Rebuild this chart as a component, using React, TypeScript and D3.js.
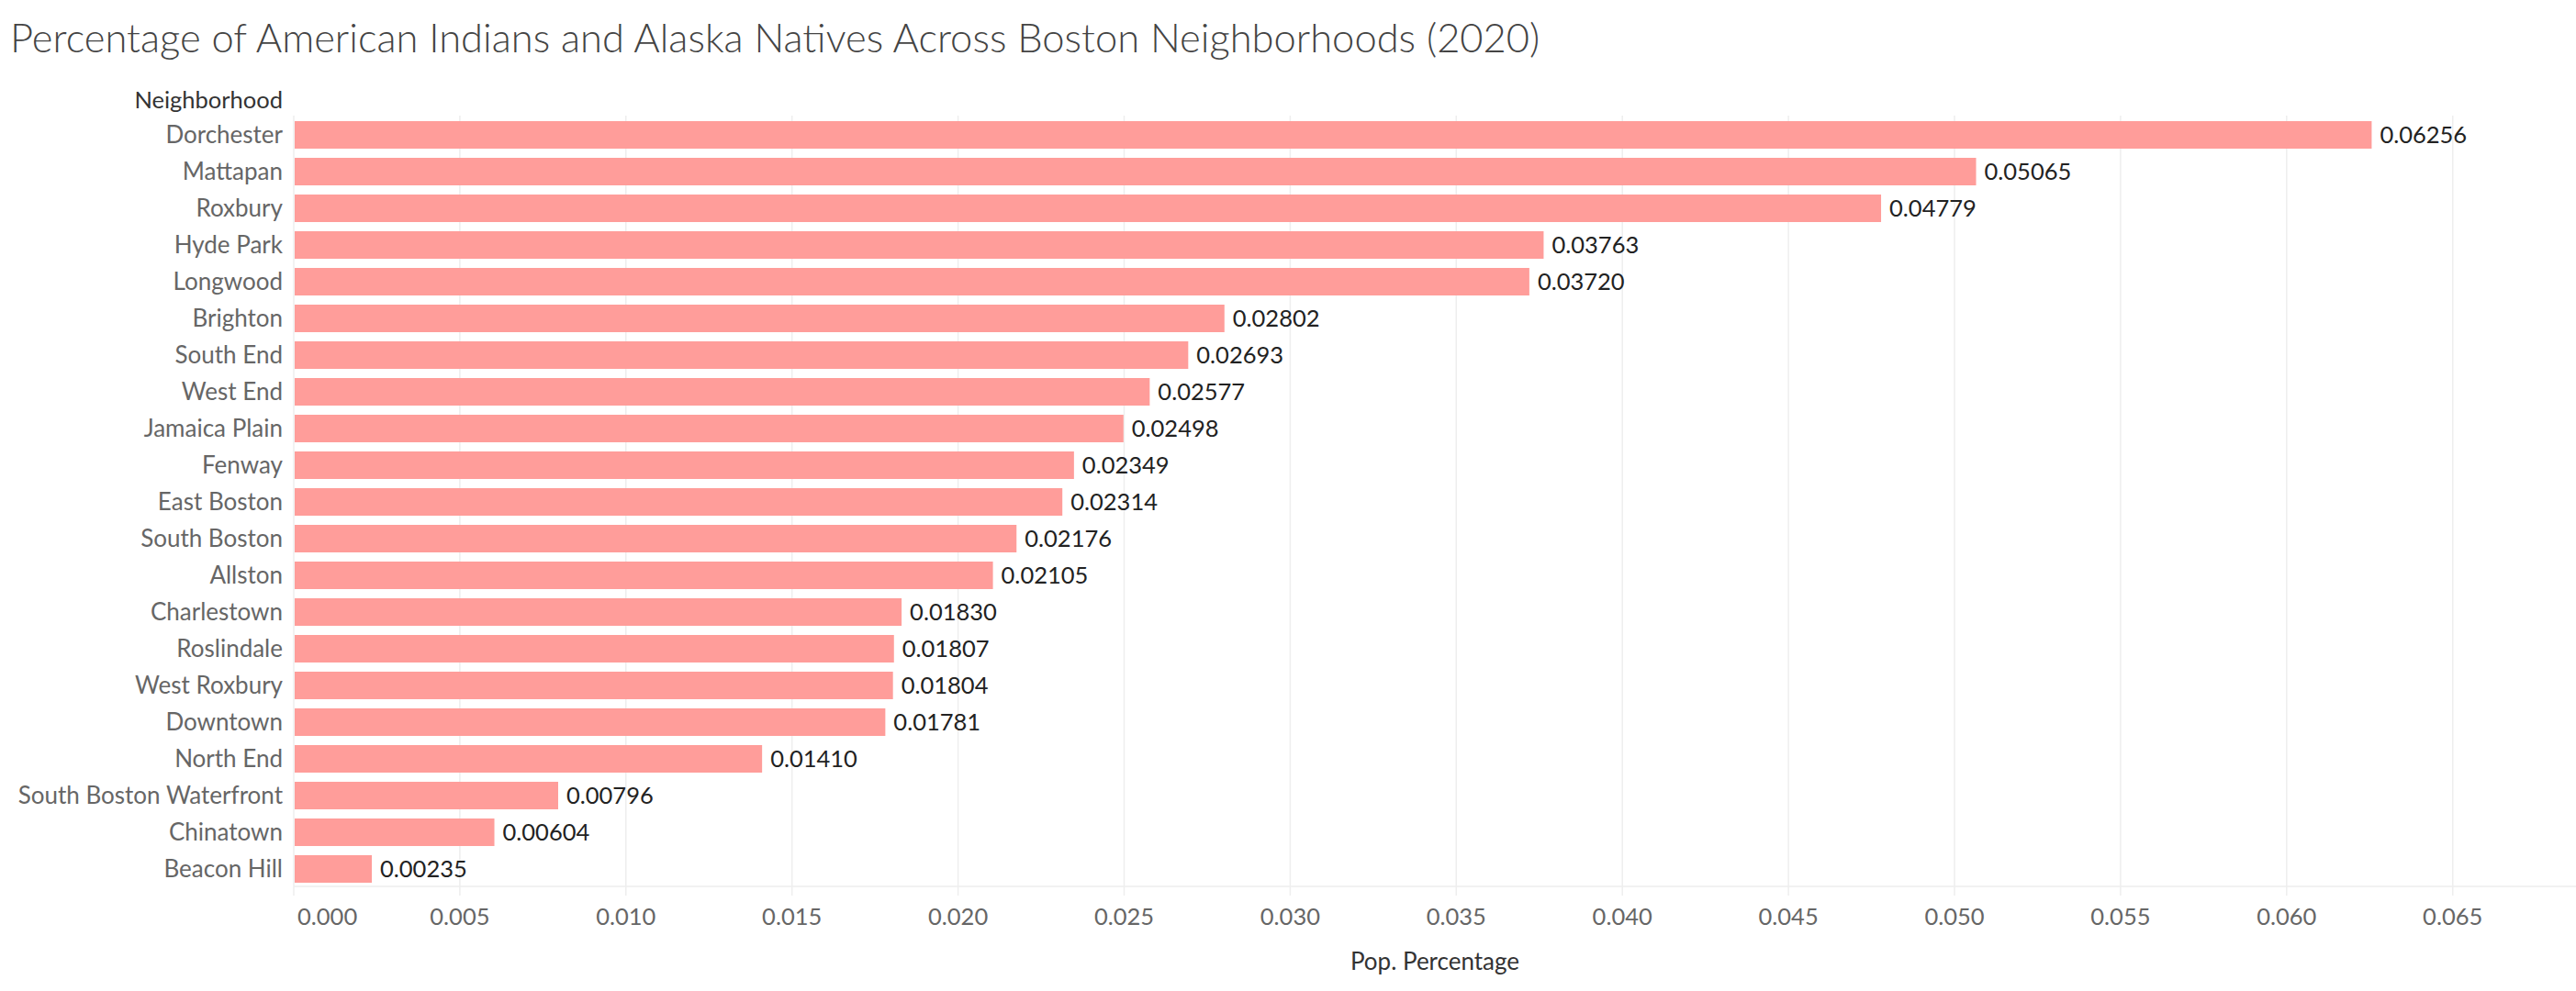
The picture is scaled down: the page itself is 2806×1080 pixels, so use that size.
import React, { useEffect, useRef } from 'react';
import { scaleBand, scaleLinear, select, range } from 'd3';

const neighborhoods = [
    'Dorchester', 'Mattapan', 'Roxbury', 'Hyde Park', 'Longwood', 'Brighton',
    'South End', 'West End', 'Jamaica Plain', 'Fenway', 'East Boston',
    'South Boston', 'Allston', 'Charlestown', 'Roslindale', 'West Roxbury',
    'Downtown', 'North End', 'South Boston Waterfront', 'Chinatown', 'Beacon Hill'
];

const popPercentage = [
    0.06256, 0.05065, 0.04779, 0.03763, 0.03720, 0.02802,
    0.02693, 0.02577, 0.02498, 0.02349, 0.02314,
    0.02176, 0.02105, 0.01830, 0.01807, 0.01804,
    0.01781, 0.01410, 0.00796, 0.00604, 0.00235
];

const xTicks = range(0, 14).map(i => i * 0.005);

const W = 2806;
const H = 1080;
const FONT = 'Lato, "Open Sans", sans-serif';

const App = () => {

    const svgRef = useRef<SVGSVGElement>(null);

    useEffect(() => {
        document.body.style.margin = '0';

        const svg = select(svgRef.current);
        svg.selectAll('*').remove();

        const left = 320, right = W, top = 127, bottom = 967;

        const xScale = scaleLinear()
            .domain([0, (right - left) / 36180])
            .range([left, right]);

        const yScale = scaleBand()
            .domain(neighborhoods)
            .range([top, bottom])
            .paddingInner(0.25)
            .paddingOuter(0.125);

        // title
        svg.append('text')
            .attr('x', 11)
            .attr('y', 57)
            .attr('font-family', FONT)
            .attr('font-weight', 300)
            .attr('font-size', 43.5)
            .attr('fill', '#444')
            .text('Percentage of American Indians and Alaska Natives Across Boston Neighborhoods (2020)');

        // grid
        svg.selectAll('.grid')
            .data(xTicks)
            .join('line')
            .attr('class', 'grid')
            .attr('x1', d => xScale(d))
            .attr('x2', d => xScale(d))
            .attr('y1', 126)
            .attr('y2', 976)
            .attr('stroke', '#eeeeee')
            .attr('stroke-width', 1.5);

        svg.append('line')
            .attr('x1', left)
            .attr('x2', right)
            .attr('y1', 966)
            .attr('y2', 966)
            .attr('stroke', '#eeeeee')
            .attr('stroke-width', 1.5);

        // bars
        svg.selectAll('.bar')
            .data(popPercentage)
            .join('rect')
            .attr('class', 'bar')
            .attr('x', xScale(0) + 1)
            .attr('y', (d, i) => yScale(neighborhoods[i]))
            .attr('width', d => xScale(d) - xScale(0) - 1)
            .attr('height', yScale.bandwidth())
            .attr('fill', '#ff9d9a');

        // value labels
        svg.selectAll('.val')
            .data(popPercentage)
            .join('text')
            .attr('class', 'val')
            .attr('x', d => xScale(d) + 9)
            .attr('y', (d, i) => yScale(neighborhoods[i]) + yScale.bandwidth() / 2)
            .attr('dy', '0.35em')
            .attr('font-family', FONT)
            .attr('font-size', 25.5)
            .attr('fill', '#222')
            .text(d => d.toFixed(5));

        // row labels
        svg.selectAll('.cat')
            .data(neighborhoods)
            .join('text')
            .attr('class', 'cat')
            .attr('x', 308)
            .attr('y', d => yScale(d) + yScale.bandwidth() / 2)
            .attr('dy', '0.35em')
            .attr('text-anchor', 'end')
            .attr('font-family', FONT)
            .attr('font-size', 26)
            .attr('fill', '#666')
            .text(d => d);

        svg.append('text')
            .attr('x', 308)
            .attr('y', 118)
            .attr('text-anchor', 'end')
            .attr('font-family', FONT)
            .attr('font-size', 25.5)
            .attr('fill', '#333')
            .text('Neighborhood');

        // x tick labels
        svg.selectAll('.tick')
            .data(xTicks)
            .join('text')
            .attr('class', 'tick')
            .attr('x', (d, i) => i === 0 ? xScale(d) + 4 : xScale(d))
            .attr('y', 1008)
            .attr('text-anchor', (d, i) => i === 0 ? 'start' : 'middle')
            .attr('font-family', FONT)
            .attr('font-size', 25.5)
            .attr('fill', '#666')
            .text(d => d.toFixed(3));

        svg.append('text')
            .attr('x', (left + right) / 2)
            .attr('y', 1057)
            .attr('text-anchor', 'middle')
            .attr('font-family', FONT)
            .attr('font-size', 26)
            .attr('fill', '#333')
            .text('Pop. Percentage');

    }, []);

    return (
        <svg ref={svgRef} width={W} height={H}
            style={{ position: 'absolute', top: 0, left: 0, background: '#fff' }}>
        </svg>
    );
};

export default App;
